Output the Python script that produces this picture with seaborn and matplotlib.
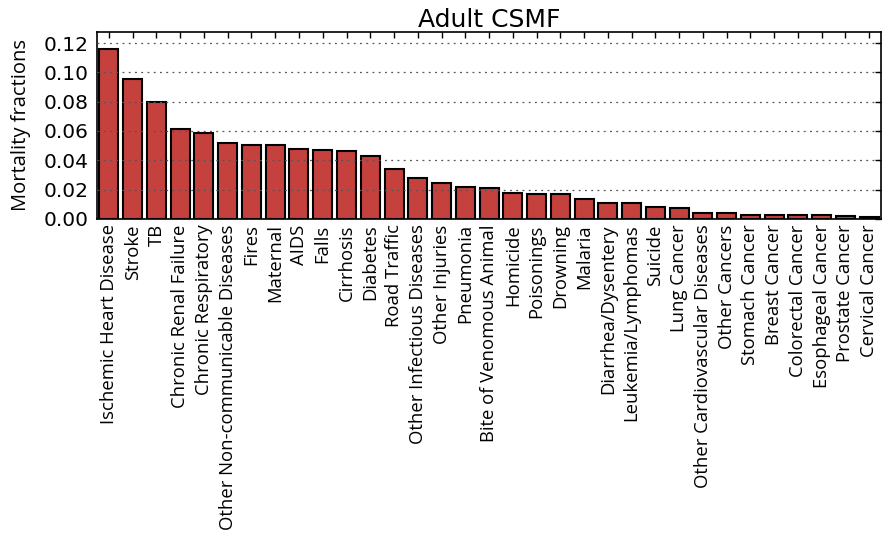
import pandas as pd
import numpy as np
import matplotlib
matplotlib.use('Agg')
import matplotlib.pyplot as plt
import seaborn as sns

# adult cause-specific mortality fractions
causes = ['Ischemic Heart Disease', 'Stroke', 'TB', 'Chronic Renal Failure',
          'Chronic Respiratory', 'Other Non-communicable Diseases', 'Fires',
          'Maternal', 'AIDS', 'Falls', 'Cirrhosis', 'Diabetes', 'Road Traffic',
          'Other Infectious Diseases', 'Other Injuries', 'Pneumonia',
          'Bite of Venomous Animal', 'Homicide', 'Poisonings', 'Drowning',
          'Malaria', 'Diarrhea/Dysentery', 'Leukemia/Lymphomas', 'Suicide',
          'Lung Cancer', 'Other Cardiovascular Diseases', 'Other Cancers',
          'Stomach Cancer', 'Breast Cancer', 'Colorectal Cancer',
          'Esophageal Cancer', 'Prostate Cancer', 'Cervical Cancer']
fractions = [0.1159, 0.0958, 0.0795, 0.0610, 0.0587, 0.0519, 0.0505,
             0.0505, 0.0480, 0.0471, 0.0464, 0.0430, 0.0339, 0.0282,
             0.0246, 0.0214, 0.0207, 0.0175, 0.0171, 0.0171, 0.0134,
             0.0109, 0.0105, 0.0080, 0.0073, 0.0039, 0.0039, 0.0027,
             0.0023, 0.0023, 0.0023, 0.0016, 0.0014]
yticks = [0.00, 0.02, 0.04, 0.06, 0.08, 0.10, 0.12]

df = pd.DataFrame({'Cause': causes, 'CSMF': fractions})

sns.set_style('white', {'text.color': 'black', 'axes.labelcolor': 'black',
                        'xtick.color': 'black', 'ytick.color': 'black'})
plt.rcParams['font.family'] = ['DejaVu Sans']

fig = plt.figure(figsize=(8.82, 5.35), dpi=100)
ax = fig.add_axes([0.110, 0.591, 0.889, 0.349])

sns.barplot(x='Cause', y='CSMF', data=df, color='#c4413e', saturation=1,
            edgecolor='black', linewidth=1.5, width=0.8, ax=ax)

ax.set_xlim(-0.5, len(causes) - 0.5)
ax.set_ylim(0, max(fractions) * 1.1)
ax.set_yticks(yticks)
ax.set_yticklabels(['%.2f' % t for t in yticks], fontsize=14.5)
ax.set_xticks(range(len(causes)))
ax.set_xticklabels(causes, rotation=90, fontsize=13.3, family='Open Sans')
ax.tick_params(direction='in', top=True, right=True, length=4, width=1,
               color='black', pad=6)
ax.tick_params(axis='x', pad=4)
ax.yaxis.grid(True, linestyle=(0, (1.5, 3.5)), color='#555555', linewidth=0.9)
ax.set_axisbelow(False)
for s in ax.spines.values():
    s.set_color('black')
    s.set_linewidth(1.2)
ax.set_xlabel('')
ax.set_ylabel('Mortality fractions', fontsize=14.5, family='Open Sans', labelpad=9)
ax.set_title('Adult CSMF', fontsize=18, pad=4)

fig.savefig('out.png', dpi=100)
